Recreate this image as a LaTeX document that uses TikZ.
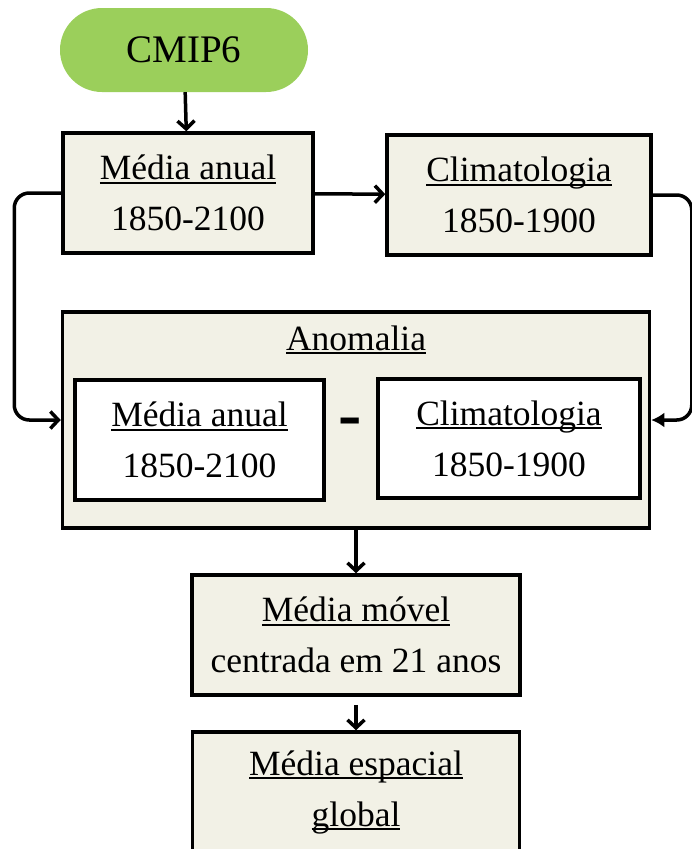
\documentclass[tikz,border=0pt]{standalone}
\usepackage{fontspec}
\setmainfont{Liberation Serif}
\usetikzlibrary{arrows.meta}

\definecolor{verde}{RGB}{155,207,91}
\definecolor{bege}{RGB}{242,241,230}

\newcommand{\sublinha}[1]{\setbox0\hbox{#1}\rlap{\rule[-4pt]{\wd0}{2pt}}\box0}

\tikzset{
  caixa/.style={draw, line width=3.5pt, fill=bege, minimum height=120pt,
    align=center, inner sep=0pt, font=\fontsize{35.5}{51}\selectfont},
  seta/.style={-{Straight Barb[length=8pt,width=17pt]}, line width=3.5pt},
  setacheia/.style={-{Latex[length=13pt,width=15pt]}, line width=3.5pt}
}

\begin{document}
\begin{tikzpicture}[x=1pt,y=-1pt]
    \useasboundingbox (0,0) rectangle (692,849);

    \node[fill=verde, rounded corners=42pt, minimum width=248pt, minimum height=84pt,
      font=\fontsize{39}{45}\selectfont] (cmip) at (184,50) {CMIP6};

    \node[caixa, minimum width=250pt] (media) at (188,193) {\sublinha{Média anual}\\1850-2100};
    \node[caixa, minimum width=264pt] (clima) at (519,195) {\sublinha{Climatologia}\\1850-1900};

    \node[caixa, minimum width=587pt, minimum height=216pt] (anomalia) at (356,420) {};
    \node[font=\fontsize{35.5}{51}\selectfont, inner sep=0pt] (anomaliatit) at (356,340) {\sublinha{Anomalia}};
    \node[caixa, fill=white, minimum width=249pt] (mediab) at (199.5,440) {\sublinha{Média anual}\\1850-2100};
    \node[caixa, fill=white, minimum width=262pt, minimum height=119pt] (climab) at (509,438.5) {\sublinha{Climatologia}\\1850-1900};
    \node[font=\fontsize{70}{70}\selectfont\bfseries, inner sep=0pt] (menos) at (350,428) {-};

    \node[caixa, minimum width=328pt] (movel) at (356,635) {\sublinha{Média móvel}\\centrada em 21 anos};
    \node[caixa, minimum width=327pt] (espacial) at (356,792) {\sublinha{Média espacial}\\\sublinha{global}};

    \draw[seta] (cmip) -- (media);
    \draw[seta] (media) -- (clima);
    \draw[seta, rounded corners=15pt] (media.west) -- ++(-47,0) |- (anomalia.west);
    \draw[setacheia, rounded corners=15pt] (clima.east) -- ++(39,0) |- (anomalia.east);
    \draw[seta] (anomalia) -- (movel);
    \draw[seta, shorten <=8pt] (movel) -- (espacial);

  \end{tikzpicture}
\end{document}
